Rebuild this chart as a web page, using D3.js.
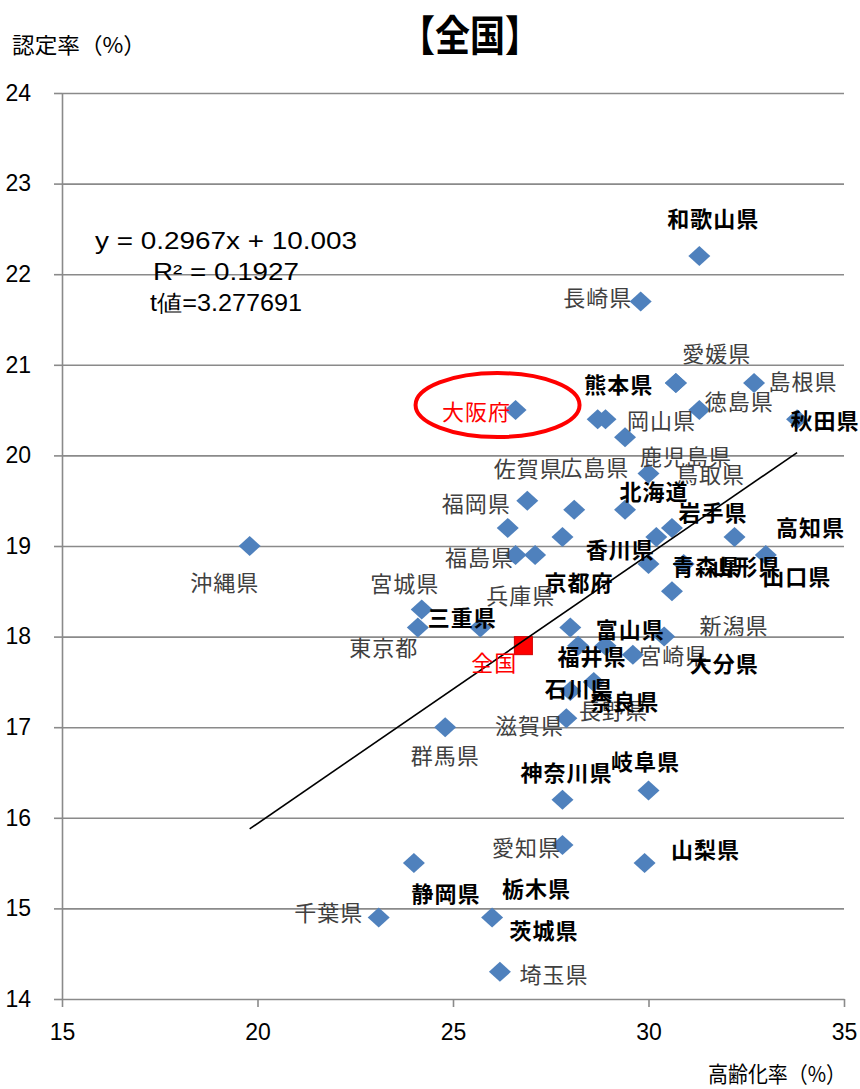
<!DOCTYPE html>
<html>
<head>
<meta charset="utf-8">
<script src="https://cdn.jsdelivr.net/npm/d3@7"></script>
<style>
  body { margin: 0; background: #fff; }
</style>
</head>
<body>
<div id="chart"></div>
<script>
// 都道府県ごとの 高齢化率(x) と 認定率(y)
const prefectures = ["和歌山県","長崎県","熊本県","愛媛県","島根県","大阪府","広島県","岡山県","鹿児島県","徳島県",
  "秋田県","鳥取県","佐賀県","北海道","福岡県","岩手県","高知県","香川県","福島県","京都府",
  "兵庫県","栃木県","山口県","青森県","山形県","新潟県","宮城県","三重県","東京都","富山県",
  "福井県","長野県","宮崎県","大分県","石川県","奈良県","滋賀県","群馬県","神奈川県","岐阜県",
  "愛知県","静岡県","山梨県","千葉県","茨城県","埼玉県","沖縄県"];
const agingRate = [31.3,29.8,30.7,30.7,32.7,26.6,28.7,28.9,29.4,31.3,
  33.8,30.0,28.1,29.4,26.9,30.6,32.2,30.2,26.6,27.1,
  26.4,27.8,33.0,30.0,30.9,30.6,24.2,25.7,24.1,28.0,
  28.2,28.9,29.6,30.4,28.0,28.6,27.9,24.8,27.8,30.0,
  27.8,24.0,29.9,23.1,26.0,26.2,19.8];
const certRate = [22.2,21.7,20.8,20.8,20.8,20.5,20.4,20.4,20.2,20.5,
  20.4,19.8,19.4,19.4,19.5,19.2,19.1,19.1,18.9,18.9,
  19.2,19.1,18.9,18.8,18.8,18.5,18.3,18.1,18.1,18.1,
  17.9,17.9,17.8,18.0,17.4,17.5,17.1,17.0,16.2,16.3,
  15.7,15.5,15.5,14.9,14.9,14.3,19.0];

const nationalName = "全国";
const nationalAging = 26.8;
const nationalCert = 17.9;

const xTicks = [15, 20, 25, 30, 35];
const yTicks = [14, 15, 16, 17, 18, 19, 20, 21, 22, 23, 24];

const slope = 0.2967;
const intercept = 10.003;
const equationLines = ["y = 0.2967x + 10.003", "R² = 0.1927", "t値=3.277691"];

const titleText = "【全国】";
const yTitle = "認定率（%）";
const xTitle = "高齢化率（%）";

// ラベルの配置（点からのずれ, px）と太字ラベル
const labelOffsets = [[14,-39],[-43,-5],[-57,0],[41,-31],[49,-3],[-39,0],[-3,47],[56,0],[61,18],[40,-10],
  [28,0],[62,-1],[-46,-43],[29,-20],[-51,1],[41,-17],[76,-11],[-36,11],[-36,1],[44,26],
  [13,66],[-26,350],[31,20],[58,1],[63,1],[62,33],[-17,-27],[-18,-12],[-34,18],[60,0],
  [14,9],[8,63],[41,-1],[60,25],[9,-4],[31,18],[-37,6],[0,27],[4,-29],[-3,-31],
  [-36,1],[32,29],[61,-15],[-50,-6],[52,12],[54,1],[-25,35]];
const nationalOffset = [-29, 15];
const boldLabels = new Set(["和歌山県","熊本県","秋田県","北海道","岩手県","高知県","香川県","京都府","栃木県",
  "山口県","青森県","山形県","三重県","富山県","福井県","大分県","石川県","奈良県","神奈川県","岐阜県",
  "静岡県","山梨県","茨城県"]);

const data = prefectures.map((name, i) => ({
  name: name,
  x: agingRate[i],
  y: certRate[i],
  off: labelOffsets[i]
}));

const W = 860, H = 1089;
const plotLeft = 62, plotRight = 844, plotTop = 93, plotBottom = 999;
const gridColor = "#8a8a8a";
const cjk = "'Noto Sans CJK JP', 'Noto Sans', sans-serif";

const x = d3.scaleLinear().domain([15, 35]).range([plotLeft, plotRight]);
const y = d3.scaleLinear().domain([14, 24]).range([plotBottom, plotTop]);

const svg = d3.select("#chart").append("svg")
  .attr("width", W)
  .attr("height", H);

// グリッド線
svg.append("g")
  .attr("transform", `translate(${plotLeft},0)`)
  .call(d3.axisLeft(y).tickValues(yTicks.filter(d => d > 14)).tickSize(-(plotRight - plotLeft)).tickFormat(""))
  .call(g => g.select(".domain").remove())
  .call(g => g.selectAll("line").attr("stroke", gridColor).attr("stroke-width", 1.6));

// Y軸
svg.append("g")
  .attr("transform", `translate(${plotLeft},0)`)
  .call(d3.axisLeft(y).tickValues(yTicks).tickSize(8).tickSizeOuter(0).tickPadding(23))
  .call(g => g.select(".domain").attr("stroke", gridColor).attr("stroke-width", 1.6))
  .call(g => g.selectAll("line").attr("stroke", gridColor).attr("stroke-width", 1.6))
  .call(g => g.selectAll("text")
    .attr("font-family", "'Liberation Sans Narrow', 'Liberation Sans', sans-serif")
    .attr("font-size", 23).attr("fill", "#000"));

// X軸
svg.append("g")
  .attr("transform", `translate(0,${plotBottom})`)
  .call(d3.axisBottom(x).tickValues(xTicks).tickSize(8).tickSizeOuter(0).tickPadding(17))
  .call(g => g.select(".domain").attr("stroke", gridColor).attr("stroke-width", 1.6))
  .call(g => g.selectAll("line").attr("stroke", gridColor).attr("stroke-width", 1.6))
  .call(g => g.selectAll("text")
    .attr("font-family", "'Liberation Sans Narrow', 'Liberation Sans', sans-serif")
    .attr("font-size", 23).attr("fill", "#000"));

// タイトル・軸タイトル
svg.append("text")
  .attr("x", 470).attr("y", 51)
  .attr("text-anchor", "middle")
  .attr("font-family", cjk).attr("font-weight", "bold").attr("font-size", 42)
  .attr("textLength", 140).attr("lengthAdjust", "spacingAndGlyphs")
  .text(titleText);

svg.append("text")
  .attr("x", 12).attr("y", 53)
  .attr("font-family", cjk).attr("font-size", 22)
  .attr("textLength", 134).attr("lengthAdjust", "spacingAndGlyphs")
  .text(yTitle);

svg.append("text")
  .attr("x", 846).attr("y", 1082)
  .attr("text-anchor", "end")
  .attr("font-family", cjk).attr("font-size", 22)
  .attr("textLength", 138).attr("lengthAdjust", "spacingAndGlyphs")
  .text(xTitle);

// 近似式
const eqLengths = [262, 146, 152];
svg.append("g").selectAll("text")
  .data(equationLines)
  .enter().append("text")
  .attr("x", 226)
  .attr("y", (d, i) => 249 + i * 31)
  .attr("text-anchor", "middle")
  .attr("font-family", "'Liberation Sans', Arial, sans-serif")
  .attr("font-size", 23)
  .attr("fill", "#000")
  .attr("textLength", (d, i) => eqLengths[i])
  .attr("lengthAdjust", "spacingAndGlyphs")
  .text(d => d);

// 散布点（ひし形）
const diamond = "M0,-10L11,0L0,10L-11,0Z";
svg.append("g").selectAll("path")
  .data(data)
  .enter().append("path")
  .attr("d", diamond)
  .attr("transform", d => `translate(${x(d.x)},${y(d.y)})`)
  .attr("fill", "#4f81bd");

// 全国
svg.append("rect")
  .attr("x", x(nationalAging) - 9)
  .attr("y", y(nationalCert) - 9)
  .attr("width", 18).attr("height", 18)
  .attr("fill", "#ff0000")
  .attr("stroke", "#d00000").attr("stroke-width", 1);

// 近似直線
const [xMin, xMax] = d3.extent(agingRate);
svg.append("line")
  .attr("x1", x(xMin)).attr("y1", y(slope * xMin + intercept))
  .attr("x2", x(xMax)).attr("y2", y(slope * xMax + intercept))
  .attr("stroke", "#000").attr("stroke-width", 1.6);

// 大阪府を囲む楕円
const osaka = data.find(d => d.name === "大阪府");
svg.append("ellipse")
  .attr("cx", x(osaka.x) - 18).attr("cy", y(osaka.y) - 5)
  .attr("rx", 82).attr("ry", 32)
  .attr("fill", "none")
  .attr("stroke", "#ff0000").attr("stroke-width", 4);

// ラベル
svg.append("g").selectAll("text")
  .data(data)
  .enter().append("text")
  .attr("x", d => x(d.x) + d.off[0])
  .attr("y", d => y(d.y) + d.off[1])
  .attr("text-anchor", "middle")
  .attr("dominant-baseline", "central")
  .attr("font-family", cjk)
  .attr("font-size", 22)
  .attr("letter-spacing", 1)
  .attr("font-weight", d => boldLabels.has(d.name) ? "bold" : "normal")
  .attr("fill", d => d.name === "大阪府" ? "#ff0000" : (boldLabels.has(d.name) ? "#000" : "#404040"))
  .text(d => d.name);

svg.append("text")
  .attr("x", x(nationalAging) + nationalOffset[0])
  .attr("y", y(nationalCert) + nationalOffset[1])
  .attr("text-anchor", "middle")
  .attr("dominant-baseline", "central")
  .attr("font-family", cjk)
  .attr("font-size", 22)
  .attr("letter-spacing", 1)
  .attr("fill", "#ff0000")
  .text(nationalName);
</script>
</body>
</html>
